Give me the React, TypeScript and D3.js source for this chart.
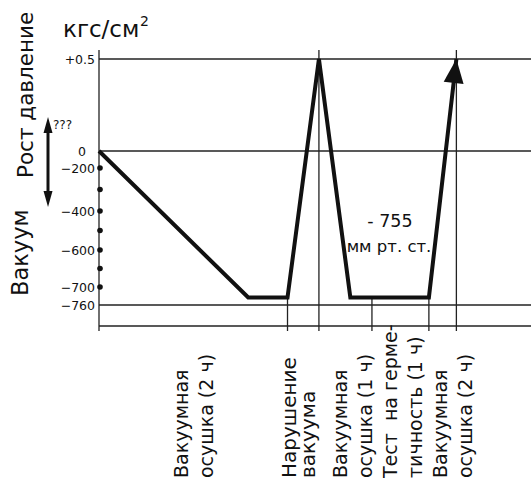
import React from "react";
import * as d3 from "d3";

// ---- data ----
const scaleValues = [0.5, 0, -200, -400, -600, -700, -760, -800];
const tickValues = [0.5, 0, -200, -400, -600, -700, -760];
const tickLabels = ["+0.5", "0", "\u2212200", "\u2212400", "\u2212600", "\u2212700", "\u2212760"];
const dotValues = [-200, -300, -400, -500, -600, -650, -700];
const gridValues = [0.5, 0, -760, -800];

const timePoints = [0, 3.8, 4.8, 5.6, 6.4, 8.4, 9.1];
const pressureValues = [0, -735, -735, 0.5, -735, -735, 0.5];

const fullBoundaries = [5.6, 9.1];
const lowBoundaries = [4.8, 6.95, 8.4];

const phaseLines = [
  ["Вакуумная", "осушка (2 ч)"],
  ["Нарушение", "вакуума"],
  ["Вакуумная", "осушка (1 ч)"],
  ["Тест  на герме-", "тичность (1 ч)"],
  ["Вакуумная", "осушка (2 ч)"],
];
const phaseAt = [2.27, 5.02, 6.32, 7.59, 8.86];
const phaseBig = [false, true, false, false, false];

export default function App() {
  const W = 531, H = 481;
  const x = d3.scaleLinear().domain([0, 11]).range([99, 531]);
  const y = d3.scaleLinear().domain(scaleValues).range([59, 151, 168, 211, 250, 287, 305, 326]);
  const font = "'DejaVu Sans', Verdana, sans-serif";
  const thin = "#222";
  const line = d3.line<number>().x((_, i) => x(timePoints[i])).y((v) => y(v));
  const lastI = pressureValues.length - 1;
  const ax = x(timePoints[lastI]);
  const ay = y(pressureValues[lastI]);
  const flatY = y(pressureValues[1]);

  const px = x(timePoints[lastI - 1]);
  const py = y(pressureValues[lastI - 1]);
  const ang = Math.atan2(ay - py, ax - px);
  const len = 24, hw = 10;
  const bx = ax - len * Math.cos(ang), by = ay - len * Math.sin(ang);
  const nx = -Math.sin(ang), ny = Math.cos(ang);
  // line stops inside arrow head
  const lineData = pressureValues.slice();

  return (
    <svg width={W} height={H} style={{ position: "absolute", left: 0, top: 0 }} fontFamily={font}>
      <rect width={W} height={H} fill="#fff" />
      {gridValues.map((v) => (
        <line key={v} x1={x(0)} x2={W} y1={y(v)} y2={y(v)} stroke={thin} strokeWidth={1.3} />
      ))}
      <line x1={x(0)} x2={x(0)} y1={50} y2={331} stroke={thin} strokeWidth={1.3} />
      {fullBoundaries.map((t) => (
        <line key={t} x1={x(t)} x2={x(t)} y1={50} y2={331} stroke={thin} strokeWidth={1.3} />
      ))}
      {lowBoundaries.map((t) => (
        <line key={t} x1={x(t)} x2={x(t)} y1={flatY} y2={331} stroke={thin} strokeWidth={1.3} />
      ))}
      {tickValues.map((v, i) => (
        <text key={v} x={v === 0 ? 86 : 95} y={y(v)} dy="0.36em" textAnchor="end" fontSize={12.5} fill="#111">
          {tickLabels[i]}
        </text>
      ))}
      {dotValues.map((v) => (
        <circle key={v} cx={x(0) + 1} cy={y(v)} r={2.8} fill="#111" />
      ))}
      <path
        d={line(lineData) || ""}
        fill="none"
        stroke="#111"
        strokeWidth={4}
        strokeLinejoin="miter"
      />
      <polygon
        points={`${ax},${ay} ${bx + nx * hw},${by + ny * hw} ${bx - nx * hw},${by - ny * hw}`}
        fill="#111"
      />
      <text x={63} y={37} fontSize={23} fill="#111">кгс/см</text>
      <text x={140} y={26} fontSize={14} fill="#111">2</text>
      <text transform="translate(33,178) rotate(-90)" fontSize={21.5} fill="#111">Рост давление</text>
      <text transform="translate(28,296) rotate(-90)" fontSize={22.5} fill="#111">Вакуум</text>
      <line x1={48} x2={48} y1={128} y2={196} stroke="#111" strokeWidth={3} />
      <polygon points="48,117 43.5,133 52.5,133" fill="#111" />
      <polygon points="48,207 43.5,191 52.5,191" fill="#111" />
      <text x={53} y={129} fontSize={12} fill="#111">???</text>
      <text x={390} y={227} textAnchor="middle" fontSize={17.5} fill="#111">- 755</text>
      <text x={389} y={252} textAnchor="middle" fontSize={16.5} fill="#111">мм рт. ст.</text>
      {phaseLines.map((ls, i) => (
        <g key={i}>
          {ls.map((s, j) => (
            <text
              key={j}
              transform={`translate(${x(phaseAt[i]) + j * (phaseBig[i] ? 19 : 25)},478) rotate(-90)`}
              fontSize={phaseBig[i] ? 20 : 19}
              fill="#111"
              style={{ whiteSpace: "pre" }}
            >
              {s}
            </text>
          ))}
        </g>
      ))}
    </svg>
  );
}
